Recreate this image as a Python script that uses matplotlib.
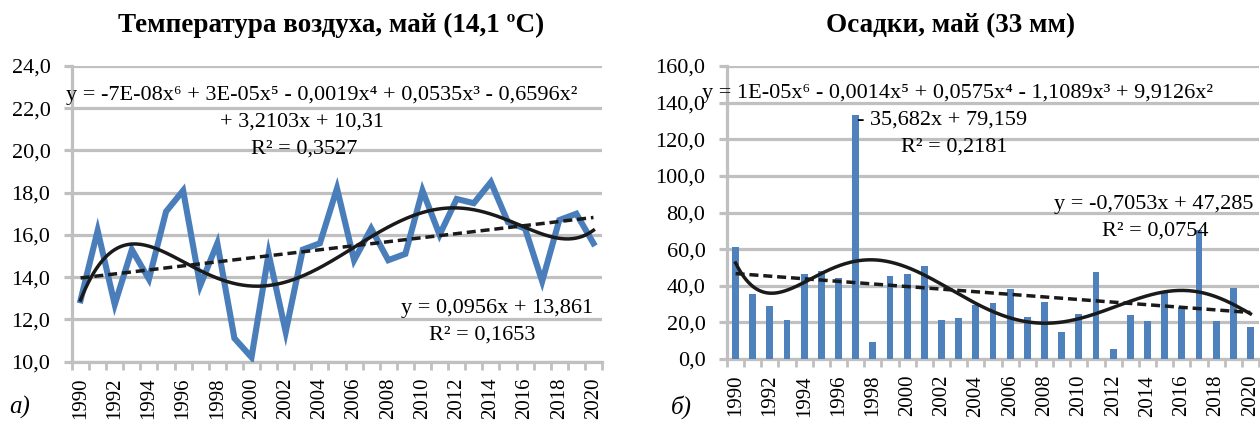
import numpy as np
import matplotlib
matplotlib.use("Agg")
import matplotlib.pyplot as plt
from matplotlib.ticker import FixedLocator, NullFormatter

plt.rcParams['font.family'] = ['Liberation Serif', 'DejaVu Serif']

years = list(range(1990, 2021))
year_labels = [str(y) if (y - 1990) % 2 == 0 else "" for y in years]

temp_may = [12.9, 16.2, 12.7, 15.3, 13.9, 17.1, 18.1, 13.6, 15.6, 11.1,
            10.2, 15.1, 11.4, 15.3, 15.6, 18.2, 14.8, 16.3, 14.8, 15.1,
            18.1, 16.0, 17.7, 17.5, 18.5, 16.6, 16.3, 13.8, 16.7, 17.0, 15.6]

precip_may = [61.1, 35.5, 28.9, 21.3, 46.5, 48.2, 44.2, 133.3, 9.3, 45.3,
              46.5, 50.9, 21.3, 22.5, 29.6, 30.5, 38.2, 22.7, 31.3, 15.0,
              24.5, 47.6, 5.7, 24.2, 20.9, 36.0, 28.4, 70.5, 20.5, 38.7, 17.5]

temp_title = "Температура воздуха, май (14,1 ºC)"
precip_title = "Осадки, май (33 мм)"

temp_poly_text = ["y = -7E-08x⁶ + 3E-05x⁵ - 0,0019x⁴ + 0,0535x³ - 0,6596x²",
                  "+ 3,2103x + 10,31",
                  "R² = 0,3527"]
temp_lin_text = ["y = 0,0956x + 13,861", "R² = 0,1653"]
precip_poly_text = ["y = 1E-05x⁶ - 0,0014x⁵ + 0,0575x⁴ - 1,1089x³ + 9,9126x²",
                    "- 35,682x + 79,159",
                    "R² = 0,2181"]
precip_lin_text = ["y = -0,7053x + 47,285", "R² = 0,0754"]

BLUE = "#4A7EBB"
BAR_BLUE = "#4F81BD"
GRID = "#C0C0C0"
FS = 16

W, H = 1260, 422
fig = plt.figure(figsize=(W / 100, H / 100), dpi=100)


def px_axes(x0, y_top, x1, y_bot):
    return fig.add_axes([x0 / W, 1 - y_bot / H, (x1 - x0) / W, (y_bot - y_top) / H])


def style_axes(ax, yticks, ylim):
    n = len(years)
    ax.set_xlim(-0.5, n - 0.5)
    ax.set_ylim(*ylim)
    ax.set_yticks(yticks)
    ax.set_yticklabels([f"{v:.1f}".replace(".", ",") for v in yticks], fontsize=FS)
    ax.yaxis.grid(True, color=GRID, linewidth=2.3)
    ax.set_axisbelow(True)
    for s in ("top", "right"):
        ax.spines[s].set_visible(False)
    for s in ("left", "bottom"):
        ax.spines[s].set_color(GRID)
        ax.spines[s].set_linewidth(2.3)
    ax.tick_params(axis="y", length=5.5, width=2.3, color=GRID, pad=10)
    ax.xaxis.set_major_locator(FixedLocator(np.arange(n)))
    ax.set_xticklabels(year_labels, rotation=90, fontsize=15)
    ax.tick_params(axis="x", which="major", length=0, pad=11.5)
    ax.xaxis.set_minor_locator(FixedLocator(np.arange(-0.5, n, 1.0)))
    ax.xaxis.set_minor_formatter(NullFormatter())
    ax.tick_params(axis="x", which="minor", length=6, width=2, color=GRID)


def trends(ax, values, deg):
    xs = np.arange(1, len(values) + 1)
    fine = np.linspace(1, len(values), 400)
    poly = np.polyval(np.polyfit(xs, values, deg), fine)
    lin = np.polyval(np.polyfit(xs, values, 1), fine)
    ax.plot(fine - 1, poly, color="#1a1a1a", lw=2.5, zorder=4)
    ax.plot(fine - 1, lin, color="#1a1a1a", lw=2.5, ls=(0, (2.6, 1.4)), zorder=4)


def fig_text(x, y, s, size=FS, **kw):
    fig.text(x / W, 1 - y / H, s, fontsize=size, ha="center", va="baseline", **kw)


# Left panel: air temperature
ax1 = px_axes(72, 66, 602, 361.5)
style_axes(ax1, np.arange(10, 24.1, 2), (10, 24))
ax1.plot(range(len(years)), temp_may, color=BLUE, lw=4.4, solid_joinstyle="miter", zorder=3)
trends(ax1, temp_may, 6)

# Right panel: precipitation
ax2 = px_axes(727, 66, 1259, 359)
style_axes(ax2, np.arange(0, 160.1, 20), (0, 160))
ax2.bar(range(len(years)), precip_may, width=0.4, color=BAR_BLUE, zorder=3)
trends(ax2, precip_may, 6)

# Titles
fig_text(331, 32, temp_title, size=19.5, fontweight="bold")
fig_text(951, 32, precip_title, size=19.5, fontweight="bold")

# Trendline equations
fig_text(322, 100, temp_poly_text[0])
fig_text(302, 127, temp_poly_text[1])
fig_text(304, 154, temp_poly_text[2])
fig_text(497, 313, temp_lin_text[0])
fig_text(482, 340, temp_lin_text[1])

fig_text(957, 98, precip_poly_text[0])
fig_text(942, 125, precip_poly_text[1])
fig_text(954, 152, precip_poly_text[2])
fig_text(1154, 209, precip_lin_text[0])
fig_text(1155, 236, precip_lin_text[1])

# Panel letters
fig_text(20, 414, "а)", size=18, style="italic")
fig_text(681, 414, "б)", size=18, style="italic")

fig.savefig("out.png", dpi=100)
